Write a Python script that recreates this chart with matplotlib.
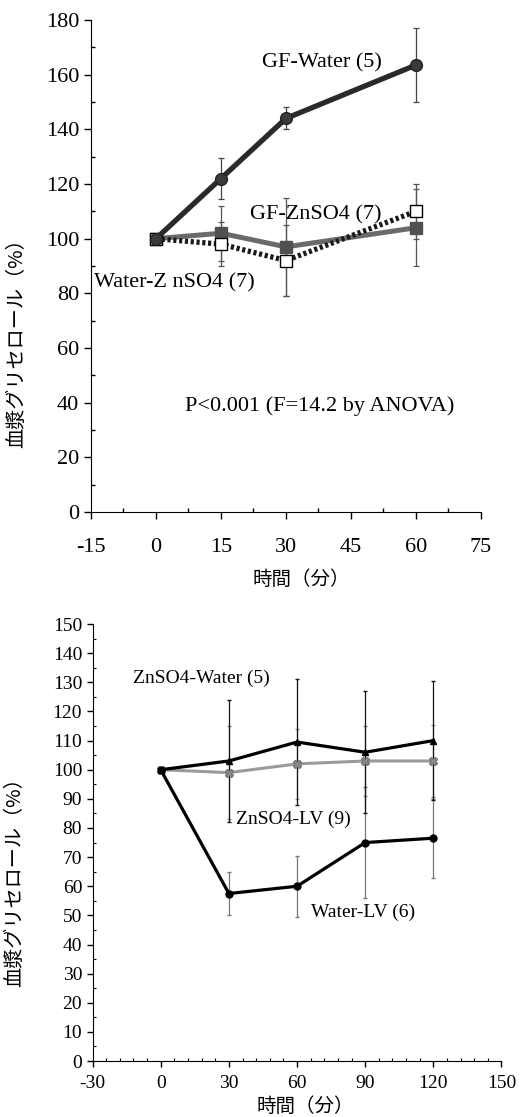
import numpy as np
import matplotlib
matplotlib.use("Agg")
import matplotlib.pyplot as plt
from matplotlib.ticker import MultipleLocator

plt.rcParams['font.family'] = ['Liberation Serif', 'Noto Sans CJK JP']

# upper panel: time course after GF / water load
t_top = [0, 15, 30, 60]
gf_water = [100, 122, 144, 163.5]
gf_water_err = [0, 7.5, 4, 13.5]
water_zn = [100, 102, 97, 104]
water_zn_err = [0, 10, 18, 14]
gf_zn = [100, 98, 92, 110]
gf_zn_err = [0, 8, 13, 10]
xticks_top = [-15, 0, 15, 30, 45, 60, 75]

# lower panel: ZnSO4 / LV groups
t_bot = [0, 30, 60, 90, 120]
zn_water = [100, 103, 109.5, 106, 110]
zn_water_err = [0, 21, 21.5, 21, 20.5]
zn_lv = [100, 99, 102, 103, 103]
zn_lv_err = [0, 16, 12, 12, 12.5]
water_lv = [100, 57.5, 60, 75, 76.5]
water_lv_err = [0, 7.5, 10.5, 19, 13.5]
xticks_bot = [-30, 0, 30, 60, 90, 120, 150]

ylab = '血漿グリセロール（%）'
xlab = '時間（分）'
cjk = ['Noto Sans CJK JP']

fig = plt.figure(figsize=(5.29, 11.17), dpi=100)

# ---------- top ----------
ax1 = fig.add_axes([0.172, 0.5416, 0.737, 0.4405])
ax1.errorbar(t_top, gf_water, yerr=gf_water_err, fmt='none', ecolor='#444444',
             elinewidth=0.9, capsize=2.5, capthick=0.9, zorder=2)
ax1.errorbar(t_top, water_zn, yerr=water_zn_err, fmt='none', ecolor='#555555',
             elinewidth=0.9, capsize=2.5, capthick=0.9, zorder=2)
ax1.errorbar(t_top, gf_zn, yerr=gf_zn_err, fmt='none', ecolor='#555555',
             elinewidth=0.9, capsize=2.5, capthick=0.9, zorder=2)
ax1.plot(t_top, water_zn, color='#6a6a6a', lw=3.6, marker='s', ms=8,
         mfc='#505050', mec='#505050', zorder=3)
ax1.plot(t_top, gf_zn, color='#1a1a1a', lw=3.8, ls=(0, (0.6, 0.5)), marker='s',
         ms=8, mfc='white', mec='black', mew=1.0, zorder=4)
ax1.plot(t_top, gf_water, color='#2a2a2a', lw=3.8, marker='o', ms=8.5,
         mfc='#3a3a3a', mec='#222222', zorder=5)

ax1.text(38.3, 164.3, 'GF-Water (5)', fontsize=16, ha='center', va='center')
ax1.text(36.9, 108.7, 'GF-ZnSO4 (7)', fontsize=16, ha='center', va='center')
ax1.text(-14.2, 83.8, 'Water-Z nSO4 (7)', fontsize=16, ha='left', va='center')
ax1.text(37.8, 38.8, 'P<0.001 (F=14.2 by ANOVA)', fontsize=16,
         ha='center', va='center')

ax1.set_xlim(-15, 75)
ax1.set_ylim(0, 180)
ax1.set_xticks(xticks_top, [str(v) for v in xticks_top])
ax1.xaxis.set_minor_locator(MultipleLocator(7.5))
ax1.yaxis.set_major_locator(MultipleLocator(20))
ax1.yaxis.set_minor_locator(MultipleLocator(10))
ax1.tick_params(axis='both', which='major', labelsize=16, length=5, width=1,
                direction='out')
ax1.tick_params(axis='x', which='major', pad=14)
ax1.tick_params(axis='both', which='minor', length=3, width=1, direction='in')
ax1.set_xlabel(xlab, family=cjk, fontsize=14)
ax1.xaxis.set_label_coords(0.54, -0.115)
ax1.set_ylabel(ylab, family=cjk, fontsize=14.5)
ax1.yaxis.set_label_coords(-0.165, 0.354)
for s in ['top', 'right']:
    ax1.spines[s].set_visible(False)

# ---------- bottom ----------
ax2 = fig.add_axes([0.175, 0.0501, 0.773, 0.3912])
ax2.errorbar(t_bot, water_lv, yerr=water_lv_err, fmt='none', ecolor='#777777',
             elinewidth=0.9, capsize=1.5, zorder=2)
ax2.errorbar(t_bot, zn_lv, yerr=zn_lv_err, fmt='none', ecolor='#888888',
             elinewidth=0.9, capsize=1.5, zorder=2)
ax2.errorbar(t_bot, zn_water, yerr=zn_water_err, fmt='none', ecolor='#111111',
             elinewidth=0.9, capsize=1.5, zorder=2)
ax2.plot(t_bot, zn_lv, color='#9a9a9a', lw=2.2, marker='X', ms=6,
         mfc='#8a8a8a', mec='#777777', zorder=3)
ax2.plot(t_bot, zn_water, color='black', lw=2.3, marker='^', ms=5,
         mfc='black', mec='black', zorder=4)
ax2.plot(t_bot, water_lv, color='black', lw=2.3, marker='o', ms=5,
         mfc='black', mec='black', zorder=4)

ax2.text(18, 131.4, 'ZnSO4-Water (5)', fontsize=14, ha='center', va='center')
ax2.text(58.2, 83, 'ZnSO4-LV (9)', fontsize=14, ha='center', va='center')
ax2.text(89, 51, 'Water-LV (6)', fontsize=14, ha='center', va='center')

ax2.set_xlim(-30, 150)
ax2.set_ylim(0, 150)
ax2.set_xticks(xticks_bot, [str(v) for v in xticks_bot])
ax2.xaxis.set_minor_locator(MultipleLocator(6))
ax2.yaxis.set_major_locator(MultipleLocator(10))
ax2.yaxis.set_minor_locator(MultipleLocator(5))
ax2.tick_params(axis='both', which='major', labelsize=14, length=4, width=1,
                direction='out')
ax2.tick_params(axis='x', which='major', pad=6)
ax2.tick_params(axis='both', which='minor', length=2, width=0.8, direction='in')
ax2.set_xlabel(xlab, family=cjk, fontsize=14)
ax2.xaxis.set_label_coords(0.52, -0.08)
ax2.set_ylabel(ylab, family=cjk, fontsize=14.5)
ax2.yaxis.set_label_coords(-0.165, 0.42)
for s in ['top', 'right']:
    ax2.spines[s].set_visible(False)

fig.savefig('out.png', dpi=100)
